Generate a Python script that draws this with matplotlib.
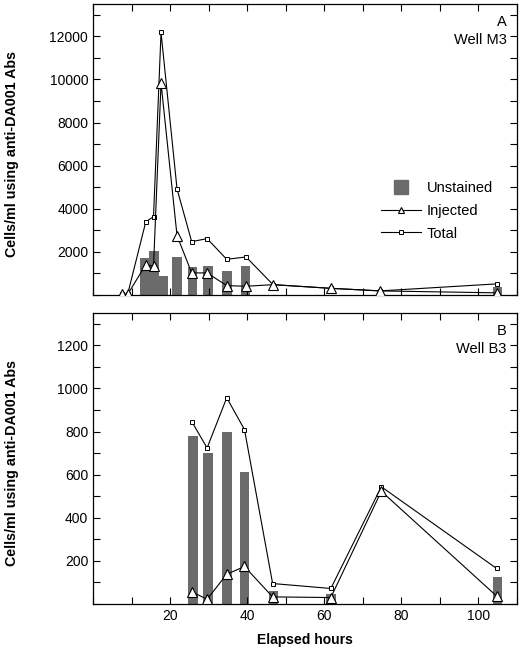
import matplotlib
matplotlib.use('Agg')
import matplotlib.pyplot as plt
from matplotlib.lines import Line2D
from matplotlib.ticker import MultipleLocator

plt.rcParams['font.family'] = ['Liberation Sans', 'DejaVu Sans']
plt.rcParams['font.size'] = 9

# Well M3 (panel A)
hours_a = [7.6, 9.0, 13.7, 15.7, 17.65, 21.8, 25.6, 29.6, 34.7, 39.7, 46.7, 61.7, 74.5, 104.7]
total_a = [40, 40, 3400, 3630, 12180, 4920, 2475, 2615, 1655, 1765, 480, 310, 190, 515]
injected_a = [30, 30, 1410, 1330, 9830, 2755, 1025, 1025, 435, 405, 480, 310, 190, 100]
bar_hours_a = [13.5, 15.9, 18.2, 21.8, 25.8, 29.8, 34.7, 39.6, 104.9]
unstained_a = [1700, 2060, 870, 1750, 1315, 1360, 1100, 1330, 380]

# Well B3 (panel B)
hours_b = [25.7, 29.6, 34.7, 39.3, 46.6, 61.7, 74.8, 104.7]
total_b = [844, 724, 957, 809, 95, 72, 544, 165]
injected_b = [56, 22, 138, 174, 33, 30, 523, 37]
bar_hours_b = [25.9, 29.9, 34.8, 39.3, 46.8, 61.7, 104.9]
unstained_b = [781, 702, 800, 611, 59, 45, 126]

x_ticks = [20, 40, 60, 80, 100]

bar_color = '#6b6b6b'
W, H = 522, 651


def panel(ax, hrs, tot, inj, bh, uns, ymax, major, minor, letter, well):
    ax.bar(bh, uns, width=2.5, color=bar_color, zorder=1)
    ax.plot(hrs, tot, color='black', lw=0.8, marker='s', ms=3.5,
            mfc='white', mec='black', mew=0.7, zorder=3)
    ax.plot(hrs, inj, color='black', lw=0.8, marker='^', ms=6.5,
            mfc='white', mec='black', mew=0.8, zorder=4)
    ax.set_xlim(0, 110)
    ax.set_ylim(0, ymax)
    ax.set_xticks(x_ticks)
    ax.xaxis.set_minor_locator(MultipleLocator(10))
    ax.set_yticks([major * i for i in range(1, 7)])
    ax.yaxis.set_minor_locator(MultipleLocator(minor))
    ax.tick_params(which='both', direction='in', top=True, right=True, width=0.8)
    ax.tick_params(which='major', length=5, labelsize=10)
    ax.tick_params(which='minor', length=5)
    for s in ax.spines.values():
        s.set_linewidth(0.9)
    ax.text(0.976, 0.938, letter, transform=ax.transAxes, ha='right', va='center', fontsize=10.5)
    ax.text(0.976, 0.878, well, transform=ax.transAxes, ha='right', va='center', fontsize=10.5)
    ax.set_ylabel('Cells/ml using anti-DA001 Abs', fontweight='bold', fontsize=10.3)
    ax.yaxis.set_label_coords(-0.174, 0.485)


fig = plt.figure(figsize=(W / 100, H / 100), dpi=100)
ax1 = fig.add_axes([93 / W, 1 - 295 / H, 424 / W, 291 / H])
ax2 = fig.add_axes([93 / W, 1 - 604 / H, 424 / W, 291 / H])

panel(ax1, hours_a, total_a, injected_a, bar_hours_a, unstained_a, 13500, 2000, 1000, 'A', 'Well M3')
panel(ax2, hours_b, total_b, injected_b, bar_hours_b, unstained_b, 1350, 200, 100, 'B', 'Well B3')
ax1.tick_params(labelbottom=False)

ax2.set_xlabel('Elapsed hours', fontweight='bold', fontsize=10)
ax2.xaxis.set_label_coords(0.5, -0.1)

handles = [
    Line2D([], [], ls='none', marker='s', ms=10, mfc=bar_color, mec=bar_color),
    Line2D([], [], color='black', lw=0.8, marker='^', ms=5, mfc='white', mec='black', mew=0.8),
    Line2D([], [], color='black', lw=0.8, marker='s', ms=3, mfc='white', mec='black', mew=0.7),
]
ax1.legend(handles, ['Unstained', 'Injected', 'Total'], loc='upper left',
           bbox_to_anchor=((381 - 93) / 424, 1 - (181 - 4) / 291), frameon=False,
           numpoints=1, handlelength=2.75, handletextpad=0.4, labelspacing=0.6,
           borderpad=0, borderaxespad=0, fontsize=10.5)

fig.savefig('out.png', dpi=100)
